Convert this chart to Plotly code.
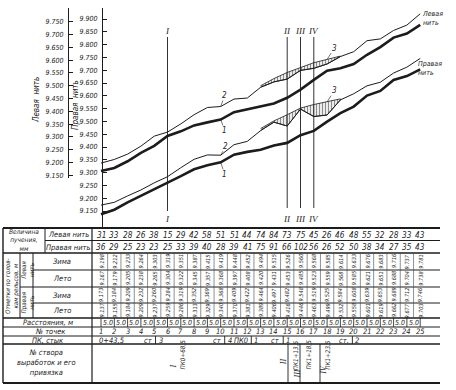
import plotly.graph_objects as go

W, H = 456, 390

# ---------------- data ----------------
point_no = list(range(1, 26))
distances_m = [5.0] * 24
pk_start_m = 43.5  # ПК0+43,5 at point 1

heave_left_mm = [31, 33, 28, 26, 38, 15, 29, 42, 58, 51, 51, 44, 74, 84, 73, 75, 45, 26, 46, 48, 55, 32, 28, 33, 43]
heave_right_mm = [36, 29, 25, 23, 23, 25, 33, 39, 40, 28, 39, 41, 75, 91, 66, 102, 56, 26, 52, 50, 38, 34, 27, 35, 43]

left_winter_m = [9.198, 9.212, 9.233, 9.264, 9.303, 9.319, 9.351, 9.387, 9.415, 9.419, 9.448, 9.452, 9.494,
                 9.515, 9.526, 9.560, 9.568, 9.585, 9.614, 9.633, 9.676, 9.683, 9.716, 9.737, 9.781]
left_summer_m = [9.167, 9.179, 9.205, 9.238, 9.265, 9.304, 9.322, 9.345, 9.357, 9.368, 9.397, 9.408, 9.420,
                 9.431, 9.453, 9.485, 9.523, 9.559, 9.568, 9.585, 9.621, 9.651, 9.688, 9.704, 9.738]
right_winter_m = [9.173, 9.184, 9.209, 9.232, 9.260, 9.284, 9.319, 9.352, 9.369, 9.368, 9.409, 9.422, 9.464,
                  9.497, 9.482, 9.548, 9.519, 9.525, 9.584, 9.608, 9.639, 9.653, 9.689, 9.712, 9.746]
right_summer_m = [9.137, 9.155, 9.184, 9.209, 9.237, 9.259, 9.286, 9.313, 9.329, 9.340, 9.370, 9.381, 9.389,
                  9.406, 9.416, 9.446, 9.463, 9.499, 9.532, 9.558, 9.601, 9.619, 9.662, 9.677, 9.703]

shim_points = [13, 14, 15, 16, 17, 18, 19]
left_line3_m = [9.500, 9.528, 9.552, 9.572, 9.590, 9.603, 9.616]
right_line3_m = [9.472, 9.502, 9.526, 9.552, 9.566, 9.576, 9.588]

stvor_names = ["I", "II", "III", "IV"]
stvor_pk_labels = ["ПК0+68,5", "ПК1+13,5", "ПК1+18,5", "ПК1+23,5"]
stvor_chainage_m = [68.5, 113.5, 118.5, 123.5]

pk_row_left = ["ст", "ст", "ПК0", "ст", "ст."]
pk_row_right = ["3", "4", "1", "1", "2"]
pk_row_chainage_m = [64.0, 90.0, 100.0, 112.0, 138.0]

left_axis_ticks = [9.150, 9.200, 9.250, 9.300, 9.350, 9.400, 9.450, 9.500, 9.550, 9.600, 9.650, 9.700, 9.750]
right_axis_ticks = [9.150, 9.200, 9.250, 9.300, 9.350, 9.400, 9.450, 9.500, 9.550, 9.600, 9.650, 9.700,
                    9.750, 9.800, 9.850, 9.900]

# ---------------- styling / layout helpers ----------------
FONT = "DejaVu Sans Condensed, Liberation Sans Narrow, Arial Narrow, DejaVu Sans, sans-serif"
SERIF = "Liberation Serif, DejaVu Serif, serif"
INK = "#1c1c1c"


def py(p):
    return 1 - p / H


def pxp(p):
    return p / W


X0_PX, STEP_PX = 101.0, 13.3


def x_of_px(p):
    return 1 + (p - X0_PX) / STEP_PX


def x_of_chain(c):
    return 1 + (c - pk_start_m) / distances_m[0]


PX_PER_M = 256.0


def r_val(p):  # right-rail scale
    return 9.900 + (19.0 - p) / PX_PER_M


def l_val(p):  # left-rail scale
    return 9.167 + (171.0 - p) / PX_PER_M


def it(s):
    return f"<i>{s}</i>"


fig = go.Figure()

# hatched zones (3)
for yref, line3, winter in (("y2", left_line3_m, left_winter_m), ("y", right_line3_m, right_winter_m)):
    xs = shim_points + shim_points[::-1]
    ys = line3 + [winter[p - 1] for p in shim_points][::-1]
    fig.add_trace(go.Scatter(
        x=xs, y=ys, yaxis=yref, mode="lines", fill="toself",
        fillpattern=dict(shape="|", size=3, solidity=0.45, fgcolor=INK, bgcolor="white"),
        line=dict(color=INK, width=0.8), hoverinfo="skip", showlegend=False))

# rail profiles
for yref, ser, w in (("y2", left_winter_m, 1.0), ("y2", left_summer_m, 2.6),
                     ("y", right_winter_m, 1.0), ("y", right_summer_m, 2.6)):
    fig.add_trace(go.Scatter(x=point_no, y=ser, yaxis=yref, mode="lines",
                             line=dict(color=INK, width=w), hoverinfo="skip", showlegend=False))

shapes = []
ann = []


def hline(y, x0, x1, w=1.0):
    shapes.append(dict(type="line", xref="paper", yref="paper", x0=pxp(x0), x1=pxp(x1),
                       y0=py(y), y1=py(y), line=dict(color=INK, width=w)))


def vline_px(x, y0, y1, w=1.0):
    shapes.append(dict(type="line", xref="paper", yref="paper", x0=pxp(x), x1=pxp(x),
                       y0=py(y0), y1=py(y1), line=dict(color=INK, width=w)))


def vline_x(x, y0, y1, w=1.0, color=INK):
    shapes.append(dict(type="line", xref="x", yref="paper", x0=x, x1=x,
                       y0=py(y0), y1=py(y1), line=dict(color=color, width=w)))


def text(x, y, s, size=8, xref="paper", angle=0, xanchor="center", yanchor="middle",
         family=FONT, align="center"):
    ann.append(dict(x=x, y=py(y), xref=xref, yref="paper", text=it(s), showarrow=False,
                    textangle=angle, xanchor=xanchor, yanchor=yanchor, align=align,
                    borderpad=0, font=dict(family=family, size=size, color=INK)))


# stvor vertical lines and numerals in the chart
for k, (name, c) in enumerate(zip(stvor_names, stvor_chainage_m)):
    xs = x_of_chain(c)
    vline_x(xs, 37, 211 if k == 0 else 208, w=0.9)
    text(xs, 31, name, size=9, xref="x", family=SERIF)
    text(xs, 219, name, size=9, xref="x", family=SERIF)


# line markers 1, 2, 3
def leader(x, y, yref, s, ax, ay):
    ann.append(dict(x=x, y=y, xref="x", yref=yref, text=it(s), showarrow=True, arrowhead=0,
                    arrowwidth=0.6, arrowcolor=INK, ax=ax, ay=ay, standoff=0, borderpad=0,
                    font=dict(family=FONT, size=8, color=INK)))


leader(10, left_winter_m[9], "y2", "2", 4, -11)
leader(10, left_summer_m[9], "y2", "1", 4, 11)
leader(10, right_winter_m[9], "y", "2", 5, -9)
leader(10, right_summer_m[9], "y", "1", 4, 12)
leader(18, left_line3_m[5], "y2", "3", 7, -11)
leader(18, right_line3_m[5], "y", "3", 7, -11)

# rail names at line ends
text(pxp(421), 18, "Левая<br>нить", size=7, xanchor="left", align="left")
text(pxp(417), 68, "Правая<br>нить", size=7, xanchor="left", align="left")

# axis titles (rotated)
text(pxp(37), 100, "Левая  нить", size=8, angle=-90)
text(pxp(76), 105, "Правая  нить", size=8, angle=-90)

# ---------------- table ----------------
T_END = 440
hline(228, 3, T_END, 2)
hline(240.5, 45, T_END, 1)
hline(253, 3, T_END, 1.4)
hline(270, 33, T_END, 1)
hline(287, 20, T_END, 1.2)
hline(303, 33, T_END, 1)
hline(318, 3, T_END, 1.4)
hline(327, 3, T_END, 1)
hline(336, 3, T_END, 1)
hline(344, 3, T_END, 1.4)
hline(383, 3, T_END, 2)
vline_px(3, 228, 383, 1.4)
vline_px(45, 228, 253, 1)
vline_px(20, 253, 318, 1)
vline_px(33, 253, 318, 1)
vline_px(92, 228, 383, 1.2)

for i in point_no[:-1]:
    vline_x(i + 0.5, 253, 318, w=0.6, color="#444")
for i in point_no:
    vline_x(i, 318, 327, w=0.8)
for c in pk_row_chainage_m:
    vline_x(x_of_chain(c), 336, 344, w=0.9)
for xp in (288, 300, 320):
    vline_px(xp, 344, 383, 0.9)

# label column
text(pxp(24), 240.5, "Величина<br>пучения,<br>мм", size=6.5)
text(pxp(68), 234.5, "Левая нить", size=7.5)
text(pxp(68), 247, "Правая нить", size=7.5)
text(pxp(12), 286, "Отметки по голов-<br>кам рельсов, м", size=6.3, angle=-90)
text(pxp(27), 270, "Левая<br>нить", size=6.3, angle=-90)
text(pxp(27), 302.5, "Правая<br>нить", size=6.3, angle=-90)
for yy, s in ((261.5, "Зима"), (278.5, "Лето"), (295, "Зима"), (310.5, "Лето")):
    text(pxp(62), yy, s, size=7.5)
text(pxp(48), 322.5, "Расстояния, м", size=7.5)
text(pxp(50), 331.5, "№ точек", size=7.5)
text(pxp(48), 340, "ПК, стык", size=7.5)
text(pxp(46), 362, "№ створа<br>выработок и его<br>привязка", size=7.5)

# data rows
for i, hl, hr in zip(point_no, heave_left_mm, heave_right_mm):
    text(i, 234.5, str(hl), size=8.2, xref="x")
    text(i, 247, str(hr), size=8.2, xref="x")
for yy, ser in ((261.5, left_winter_m), (278.5, left_summer_m), (295, right_winter_m), (310.5, right_summer_m)):
    for i, v in zip(point_no, ser):
        text(i, yy, f"{v:.3f}", size=5.6, xref="x", angle=-90)
for i, d in zip(point_no[:-1], distances_m):
    text(i + 0.5, 322.7, f"{d:.1f}", size=7, xref="x")
for i in point_no:
    text(i, 331.7, str(i), size=7.5, xref="x")
text(0.75, 340, "0+43,5", size=7.5, xref="x", xanchor="left")
for l, r, c in zip(pk_row_left, pk_row_right, pk_row_chainage_m):
    xc = x_of_chain(c)
    text(xc - 0.15, 340, l, size=7.5, xref="x", xanchor="right")
    text(xc + 0.15, 340, r, size=7.5, xref="x", xanchor="left")

# stvor labels in bottom row (name, then chainage)
name_dx_px = [5, -4, -4, 9]
name_y_px = [367, 362, 374, 370]
pk_dx_px = [14, 8, 7, 13]
for k, (name, lab, c) in enumerate(zip(stvor_names, stvor_pk_labels, stvor_chainage_m)):
    xc = x_of_chain(c)
    text(xc + name_dx_px[k] / STEP_PX, name_y_px[k], name, size=8, xref="x", angle=-90, family=SERIF)
    text(xc + pk_dx_px[k] / STEP_PX, 355, lab, size=6.3, xref="x", angle=-90)

tick_font = dict(family=FONT, size=7, color=INK)
axis_common = dict(anchor="free", side="left", showline=True, linecolor=INK, linewidth=1.2,
                   ticks="inside", ticklen=4, tickcolor=INK, tickwidth=1, showgrid=False,
                   zeroline=False, ticklabelstandoff=3, automargin=False, fixedrange=True,
                   tickfont=tick_font)

fig.update_layout(
    width=W, height=H, autosize=False,
    margin=dict(l=0, r=0, t=0, b=0, autoexpand=False),
    paper_bgcolor="white", plot_bgcolor="rgba(0,0,0,0)",
    showlegend=False,
    font=dict(family=FONT, size=8, color=INK),
    xaxis=dict(domain=[0, 1], range=[x_of_px(0), x_of_px(W)], visible=False, fixedrange=True,
               automargin=False),
    yaxis=dict(domain=[py(228), py(8)], range=[r_val(228), r_val(8)], position=pxp(102),
               tickvals=right_axis_ticks, ticktext=[it(f"{v:.3f}") for v in right_axis_ticks],
               **axis_common),
    yaxis2=dict(domain=[py(178), py(8)], range=[l_val(178), l_val(8)], position=pxp(68),
                tickvals=left_axis_ticks, ticktext=[it(f"{v:.3f}") for v in left_axis_ticks],
                **axis_common),
    shapes=shapes,
    annotations=ann,
)

fig.write_html("out.html", config={"displayModeBar": False, "staticPlot": True},
               post_script="document.body.style.margin='0';document.body.style.overflow='hidden';")
